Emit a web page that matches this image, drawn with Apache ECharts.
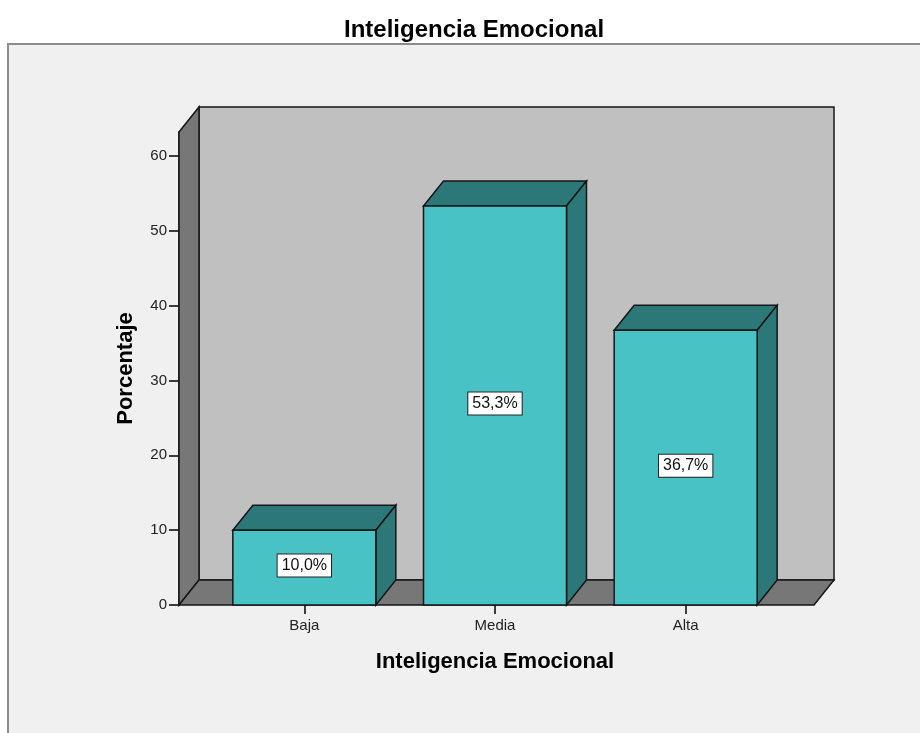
<!DOCTYPE html>
<html>
<head>
<meta charset="utf-8">
<script src="https://cdn.jsdelivr.net/npm/echarts@6.0.0/dist/echarts.min.js"></script>
<style>
  html, body { margin: 0; padding: 0; background: #ffffff; }
  #chart { width: 920px; height: 733px; }
</style>
</head>
<body>
<div id="chart"></div>
<script>
// Frequencies of "Inteligencia Emocional" levels, in percent
const categories = ['Baja', 'Media', 'Alta'];
const percentages = [10.0, 53.3, 36.7];
const yTicks = [0, 10, 20, 30, 40, 50, 60];

const FONT = 'Liberation Sans, Arial, sans-serif';
// Oblique depth of the pseudo-3D box and bars
const DX = 20, DY = -25;
const EDGE = '#161616';

function fmtPct(v) {
  return v.toFixed(1).replace('.', ',') + '%';
}

const chart = echarts.init(document.getElementById('chart'), null, { renderer: 'canvas' });

chart.setOption({
  backgroundColor: '#ffffff',
  animation: false,
  graphic: [{
    type: 'rect',
    z: -10,
    shape: { x: 8, y: 44, width: 1000, height: 800 },
    style: { fill: '#f0f0f0', stroke: '#8c8c8c', lineWidth: 2 }
  }],
  title: {
    text: 'Inteligencia Emocional',
    left: 339,
    top: 13,
    textStyle: { fontFamily: FONT, fontSize: 24, fontWeight: 'bold', color: '#000' }
  },
  grid: { left: 209, right: 139, top: 132, bottom: 128 },
  xAxis: {
    type: 'category',
    data: categories,
    axisLine: { show: false },
    axisTick: { show: true, alignWithLabel: true, length: 9, lineStyle: { color: '#000', width: 1.5 } },
    axisLabel: { margin: 13, color: '#222', fontSize: 15, fontFamily: FONT },
    splitLine: { show: false },
    name: 'Inteligencia Emocional',
    nameLocation: 'middle',
    nameGap: 46,
    nameTextStyle: { fontFamily: FONT, fontSize: 22, fontWeight: 'bold', color: '#000' }
  },
  yAxis: {
    type: 'value',
    min: 0,
    max: 63.2,
    offset: 30,
    axisLine: { show: true, lineStyle: { color: '#000', width: 1.5 } },
    axisTick: { show: true, length: 10, customValues: yTicks, lineStyle: { color: '#000', width: 1.5 } },
    axisLabel: { customValues: yTicks, margin: 12, color: '#222', fontSize: 15, fontFamily: FONT },
    splitLine: { show: false },
    name: 'Porcentaje',
    nameLocation: 'middle',
    nameGap: 42,
    nameTextStyle: { fontFamily: FONT, fontSize: 22, fontWeight: 'bold', color: '#000' }
  },
  series: [
    {
      // back wall, left wall and floor of the chart box
      type: 'custom',
      z: 1,
      silent: true,
      data: [[0, 0]],
      renderItem: function (params, api) {
        const cs = params.coordSys;
        const x0 = cs.x - 30, x1 = cs.x + cs.width + 33;
        const yt = cs.y, yb = cs.y + cs.height;
        return {
          type: 'group',
          children: [
            {
              type: 'polygon',
              shape: { points: [[x0 + DX, yt + DY], [x1 + DX, yt + DY], [x1 + DX, yb + DY], [x0 + DX, yb + DY]] },
              style: { fill: '#c0c0c0', stroke: EDGE, lineWidth: 1.5 }
            },
            {
              type: 'polygon',
              shape: { points: [[x0, yt], [x0 + DX, yt + DY], [x0 + DX, yb + DY], [x0, yb]] },
              style: { fill: '#777777', stroke: EDGE, lineWidth: 1.5 }
            },
            {
              type: 'polygon',
              shape: { points: [[x0, yb], [x0 + DX, yb + DY], [x1 + DX, yb + DY], [x1, yb]] },
              style: { fill: '#777777', stroke: EDGE, lineWidth: 1.5 }
            }
          ]
        };
      }
    },
    {
      // 3D bars with value labels
      type: 'custom',
      z: 2,
      data: categories.map((c, i) => [i, percentages[i]]),
      renderItem: function (params, api) {
        const idx = api.value(0);
        const v = api.value(1);
        const top = api.coord([idx, v]);
        const base = api.coord([idx, 0]);
        const w = api.size([1, 0])[0] * 0.75;
        const xl = top[0] - w / 2, xr = top[0] + w / 2;
        const yt = top[1], yb = base[1];
        return {
          type: 'group',
          children: [
            {
              type: 'polygon',
              shape: { points: [[xl, yt], [xl + DX, yt + DY], [xr + DX, yt + DY], [xr, yt]] },
              style: { fill: '#2c7878', stroke: EDGE, lineWidth: 1.5 }
            },
            {
              type: 'polygon',
              shape: { points: [[xr, yt], [xr + DX, yt + DY], [xr + DX, yb + DY], [xr, yb]] },
              style: { fill: '#2c7878', stroke: EDGE, lineWidth: 1.5 }
            },
            {
              type: 'rect',
              shape: { x: xl, y: yt, width: w, height: yb - yt },
              style: { fill: '#48c2c5', stroke: EDGE, lineWidth: 1.5 },
              textContent: {
                style: {
                  text: fmtPct(v),
                  fill: '#111',
                  fontSize: 16,
                  fontFamily: FONT,
                  backgroundColor: '#ffffff',
                  borderColor: '#222',
                  borderWidth: 1,
                  padding: [3, 4]
                }
              },
              textConfig: { position: 'inside', offset: [0, -2] }
            }
          ]
        };
      }
    }
  ]
});
</script>
</body>
</html>
